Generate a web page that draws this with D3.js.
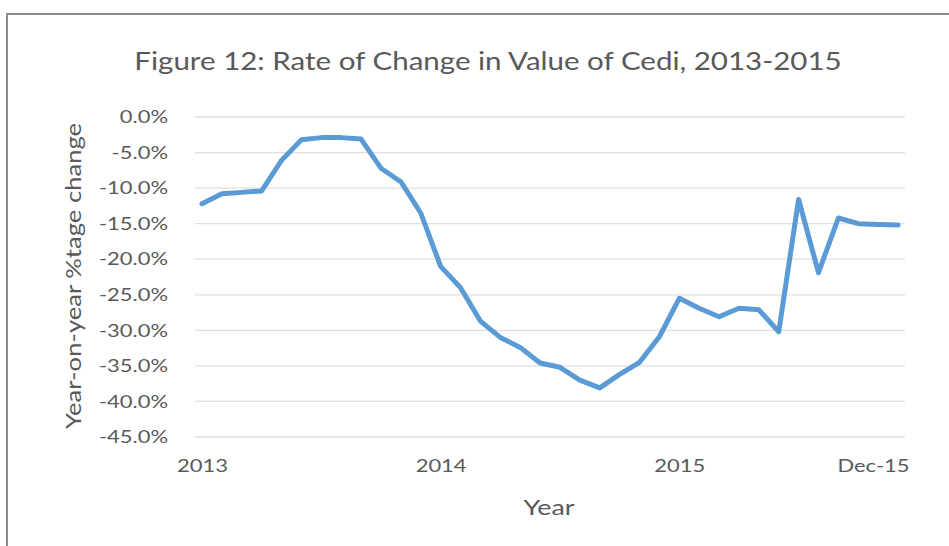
<!DOCTYPE html>
<html>
<head>
<meta charset="utf-8">
<script src="https://cdn.jsdelivr.net/npm/d3@7"></script>
<style>
  html, body { margin: 0; padding: 0; background: #fff; }
  svg { display: block; }
  text { font-family: Lato, "Open Sans", sans-serif; fill: #595959; }
</style>
</head>
<body>
<svg id="chart" width="949" height="546"></svg>
<script>
// Monthly observations, Jan 2013 – Dec 2015
const months = [
  "Jan-13","Feb-13","Mar-13","Apr-13","May-13","Jun-13","Jul-13","Aug-13","Sep-13","Oct-13","Nov-13","Dec-13",
  "Jan-14","Feb-14","Mar-14","Apr-14","May-14","Jun-14","Jul-14","Aug-14","Sep-14","Oct-14","Nov-14","Dec-14",
  "Jan-15","Feb-15","Mar-15","Apr-15","May-15","Jun-15","Jul-15","Aug-15","Sep-15","Oct-15","Nov-15","Dec-15"
];
// Year-on-year % change in the value of the cedi
const changePct = [
  -12.2, -10.8, -10.6, -10.4, -6.1, -3.2, -2.9, -2.9, -3.1, -7.2, -9.1, -13.5,
  -21.0, -24.0, -28.7, -31.0, -32.4, -34.6, -35.2, -37.0, -38.1, -36.2, -34.5, -30.9,
  -25.5, -26.9, -28.1, -26.9, -27.1, -30.2, -11.6, -21.9, -14.2, -15.0, -15.1, -15.2
];
// Axis labels
const xTickMonths = ["Jan-13", "Jan-14", "Jan-15", "Dec-15"];
const xTickLabels = ["2013", "2014", "2015", "Dec-15"];
const yTicks = [0, -5, -10, -15, -20, -25, -30, -35, -40, -45];

const titleText = "Figure 12: Rate of Change in Value of Cedi, 2013-2015";
const xTitle = "Year";
const yTitle = "Year-on-year %tage change";

const svg = d3.select("#chart");
const STRETCH = "scale(1.22,1)";   // wide lettering

// outer frame
svg.append("rect")
  .attr("x", 7).attr("y", 14)
  .attr("width", 960).attr("height", 560)
  .attr("fill", "#fff")
  .attr("stroke", "#8c8c8c").attr("stroke-width", 2);

const plot = { left: 195, right: 905, top: 117, bottom: 437 };

const x = d3.scalePoint()
  .domain(months)
  .range([plot.left, plot.right])
  .padding(0.35);

const y = d3.scaleLinear()
  .domain([-45, 0])
  .range([plot.bottom, plot.top]);

// horizontal gridlines
svg.append("g")
  .selectAll("line")
  .data(yTicks)
  .join("line")
  .attr("x1", plot.left).attr("x2", plot.right)
  .attr("y1", d => y(d)).attr("y2", d => y(d))
  .attr("stroke", "#e0e0e0").attr("stroke-width", 1.3);

// y axis labels
const yAxis = d3.axisLeft(y)
  .tickValues(yTicks)
  .tickFormat(d => d.toFixed(1) + "%")
  .tickSize(0)
  .tickPadding(0);
const gy = svg.append("g")
  .attr("transform", `translate(${plot.left - 27},0)`)
  .call(yAxis);
gy.select(".domain").remove();
gy.selectAll("text")
  .attr("font-size", 18)
  .attr("transform", STRETCH)
  .style("font-family", "Lato, 'Open Sans', sans-serif")
  .attr("fill", "#595959");

// x axis labels
const tickMap = new Map(xTickMonths.map((m, i) => [m, xTickLabels[i]]));
const xAxis = d3.axisBottom(x)
  .tickValues(xTickMonths)
  .tickFormat(d => tickMap.get(d))
  .tickSize(0)
  .tickPadding(0);
const gx = svg.append("g")
  .attr("transform", `translate(0,${plot.bottom + 22})`)
  .call(xAxis);
gx.select(".domain").remove();
gx.selectAll("text")
  .attr("font-size", 18)
  .attr("transform", STRETCH)
  .style("font-family", "Lato, 'Open Sans', sans-serif")
  .attr("fill", "#595959");
// keep the last label inside the plot area
gx.selectAll(".tick")
  .filter(d => d === "Dec-15")
  .select("text")
  .attr("text-anchor", "end")
  .attr("dx", 9);

// series line
const line = d3.line()
  .x((d, i) => x(months[i]))
  .y(d => y(d));

svg.append("path")
  .datum(changePct)
  .attr("d", line)
  .attr("fill", "none")
  .attr("stroke", "#5b9bd5")
  .attr("stroke-width", 5)
  .attr("stroke-linejoin", "round")
  .attr("stroke-linecap", "round");

// titles
svg.append("text")
  .attr("transform", "translate(488,70) " + STRETCH)
  .attr("text-anchor", "middle")
  .attr("font-size", 24.2)
  .text(titleText);

svg.append("text")
  .attr("transform", "translate(549,515) " + STRETCH)
  .attr("text-anchor", "middle")
  .attr("font-size", 22)
  .text(xTitle);

svg.append("text")
  .attr("transform", "translate(81,276) rotate(-90) " + STRETCH)
  .attr("text-anchor", "middle")
  .attr("font-size", 21)
  .text(yTitle);
</script>
</body>
</html>
